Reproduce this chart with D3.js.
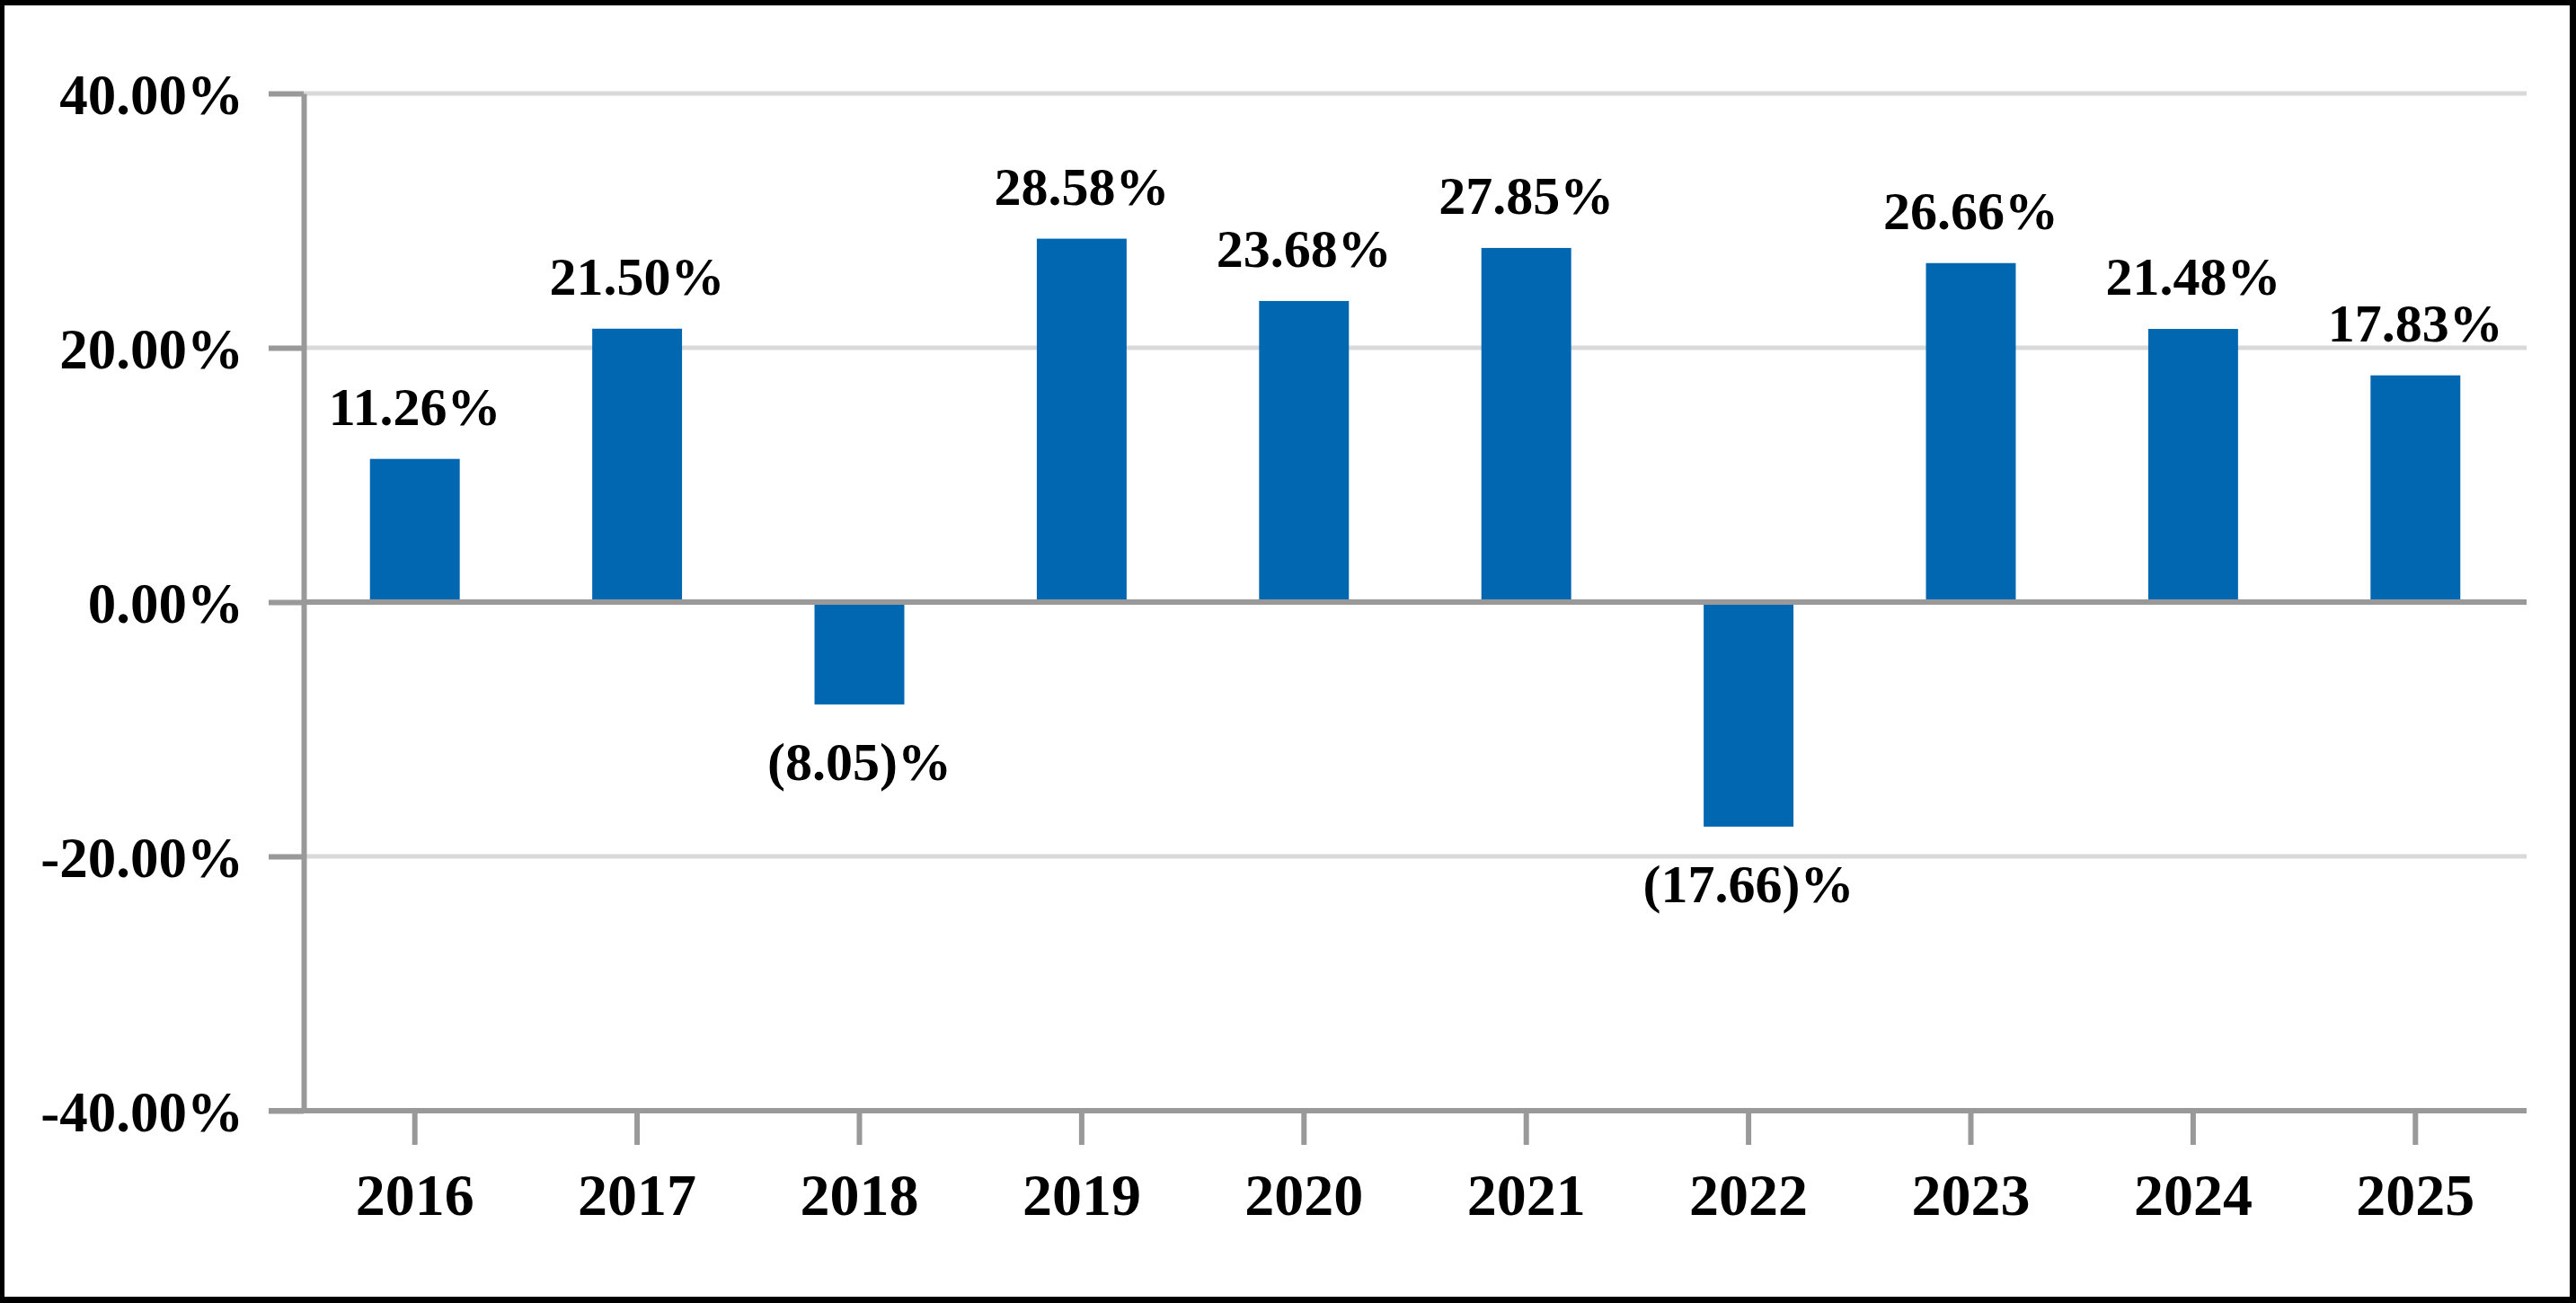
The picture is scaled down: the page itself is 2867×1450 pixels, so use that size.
<!DOCTYPE html>
<html>
<head>
<meta charset="utf-8">
<script src="https://cdn.jsdelivr.net/npm/d3@7"></script>
<style>
  html, body { margin: 0; padding: 0; background: #fff; }
  svg { display: block; }
</style>
</head>
<body>
<svg id="chart" width="2867" height="1450"></svg>
<script>
const years = ["2016","2017","2018","2019","2020","2021","2022","2023","2024","2025"];
const returns = [11.26, 21.50, -8.05, 28.58, 23.68, 27.85, -17.66, 26.66, 21.48, 17.83];
const yTicks = [-40, -20, 0, 20, 40];

(function () {
const W = 2867, H = 1450;
const svg = d3.select("#chart");
const FONT = "'Liberation Serif', 'Times New Roman', serif";
const AXIS = "#999999", GRID = "#d9d9d9", BAR = "#0167b1";

// frame
svg.append("rect").attr("x", 0).attr("y", 0).attr("width", W).attr("height", H).attr("fill", "#000");
svg.append("rect").attr("x", 5).attr("y", 6).attr("width", 2855).attr("height", 1437).attr("fill", "#fff");

const pLeft = 338, pRight = 2812, pTop = 104, pBottom = 1236;

const x = d3.scaleBand().domain(years).range([pLeft, pRight]).paddingInner(0.596).paddingOuter(0.298);
const y = d3.scaleLinear().domain([-40, 40]).range([pBottom, pTop]);

// gridlines
svg.append("g").selectAll("line").data(yTicks.filter(t => t !== 0 && t !== -40)).join("line")
  .attr("x1", pLeft).attr("x2", pRight)
  .attr("y1", d => y(d)).attr("y2", d => y(d))
  .attr("stroke", GRID).attr("stroke-width", 5);

const rows = years.map((yr, i) => ({yr, v: returns[i]}));

// bars
svg.append("g").selectAll("rect").data(rows).join("rect")
  .attr("x", d => x(d.yr))
  .attr("width", x.bandwidth())
  .attr("y", d => y(Math.max(0, d.v)))
  .attr("height", d => Math.abs(y(d.v) - y(0)))
  .attr("fill", BAR);

// zero line
svg.append("line").attr("x1", pLeft).attr("x2", pRight).attr("y1", y(0)).attr("y2", y(0))
  .attr("stroke", AXIS).attr("stroke-width", 6);

// x axis baseline
svg.append("line").attr("x1", 299).attr("x2", pRight).attr("y1", y(-40)).attr("y2", y(-40))
  .attr("stroke", AXIS).attr("stroke-width", 6);

// y axis
const f2 = d3.format(".2f");
const yAxis = d3.axisLeft(y).tickValues(yTicks).tickSize(39).tickSizeOuter(0).tickPadding(28)
  .tickFormat(d => (d < 0 ? "-" : "") + f2(Math.abs(d)) + "%");
const gy = svg.append("g").attr("transform", `translate(${pLeft},0)`).call(yAxis);
gy.select(".domain").attr("stroke", AXIS).attr("stroke-width", 6);
gy.selectAll(".tick line").attr("stroke", AXIS).attr("stroke-width", 6);
gy.selectAll(".tick text").attr("fill", "#000").attr("dy", "0.35em")
  .style("font-family", FONT).style("font-weight", "bold").style("font-size", "63px");

// x axis
const xAxis = d3.axisBottom(x).tickSize(38).tickSizeOuter(0).tickPadding(31);
const gx = svg.append("g").attr("transform", `translate(0,${y(-40)})`).call(xAxis);
gx.select(".domain").remove();
gx.selectAll(".tick line").attr("stroke", AXIS).attr("stroke-width", 6);
gx.selectAll(".tick text").attr("fill", "#000")
  .style("font-family", FONT).style("font-weight", "bold").style("font-size", "66px");

// value labels
const fmt = v => v >= 0 ? f2(v) + "%" : "(" + f2(-v) + ")%";
svg.append("g").selectAll("text").data(rows).join("text")
  .attr("x", d => x(d.yr) + x.bandwidth() / 2)
  .attr("y", d => d.v >= 0 ? y(d.v) - 38 : y(d.v) + 84)
  .attr("text-anchor", "middle")
  .attr("fill", "#000")
  .style("font-family", FONT).style("font-weight", "bold").style("font-size", "60px")
  .text(d => fmt(d.v));
})();
</script>
</body>
</html>
